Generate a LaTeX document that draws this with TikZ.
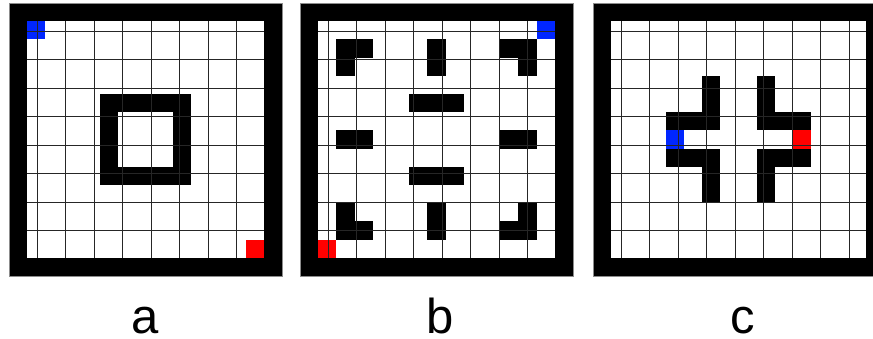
\documentclass[tikz,border=0pt]{standalone}
\usepackage{fontspec}
\setmainfont{Liberation Sans}
\usepackage{xcolor}
\usetikzlibrary{positioning}
\definecolor{wallink}{HTML}{000000}
\definecolor{startblue}{HTML}{0026FF}
\definecolor{goalred}{HTML}{FF0000}
\definecolor{gridink}{HTML}{262626}
\newcommand{\wallcell}[2]{\fill[wallink] (#1,#2) rectangle ++(1,1);}

\begin{document}
\begin{tikzpicture}[
  x=18.2pt, y=-18.2pt,
  frame/.style={fill=wallink, draw=black!45, line width=0.4pt},
  floor/.style={fill=white},
  gridline/.style={draw=gridink, line width=1.1pt},
  startcell/.style={fill=startblue},
  goalcell/.style={fill=goalred},
  panellabel/.style={anchor=base, inner sep=0pt, font=\fontsize{49}{49}\selectfont}
]
\useasboundingbox (0pt,0pt) rectangle (873pt,-339pt);
\clip (0pt,0pt) rectangle (873pt,-339pt);

% panel a: hollow square in the middle
\begin{scope}[shift={(9pt,-3pt)}]
  \path[frame] (0,0) rectangle (15,15);
  \path[floor] (1,1) rectangle (14,14);
  \fill[wallink] (5,5) rectangle (10,10);
  \path[floor] (6,6) rectangle (9,9);
  \path[startcell] (1,1) rectangle ++(1,1);
  \path[goalcell] (13,13) rectangle ++(1,1);
  \draw[gridline] (1,1) grid (14,14);
  \coordinate (mazea) at (7.5,7.5);
\end{scope}

% panel b: corners, bars and stubs
\begin{scope}[shift={(300pt,-3pt)}]
  \path[frame] (0,0) rectangle (15,15);
  \path[floor] (1,1) rectangle (14,14);
  \foreach \c/\r in {2/2,3/2,2/3,7/2,7/3,11/2,12/2,12/3,
                     6/5,7/5,8/5,2/7,3/7,11/7,12/7,6/9,7/9,8/9,
                     2/11,7/11,12/11,2/12,3/12,7/12,11/12,12/12}
    {\wallcell{\c}{\r}}
  \path[startcell] (13,1) rectangle ++(1,1);
  \path[goalcell] (1,13) rectangle ++(1,1);
  \draw[gridline] (1,1) grid (14,14);
  \coordinate (mazeb) at (7.5,7.5);
\end{scope}

% panel c: two facing brackets
\begin{scope}[shift={(593pt,-3pt)}]
  \path[frame] (0,0) rectangle (16,15);
  \path[floor] (1,1) rectangle (15,14);
  \foreach \c/\r in {6/4,6/5,4/6,5/6,6/6,4/8,5/8,6/8,6/9,6/10,
                     9/4,9/5,9/6,10/6,11/6,9/8,10/8,11/8,9/9,9/10}
    {\wallcell{\c}{\r}}
  \path[startcell] (4,7) rectangle ++(1,1);
  \path[goalcell] (11,7) rectangle ++(1,1);
  \draw[gridline] (1,1) grid (15,14);
  \coordinate (mazec) at (8,7.5);
\end{scope}

\node[panellabel] (lbla) at (145pt,-333pt) {a};
\node[panellabel] (lblb) at (440pt,-333pt) {b};
\node[panellabel] (lblc) at (743pt,-333pt) {c};

\end{tikzpicture}
\end{document}
